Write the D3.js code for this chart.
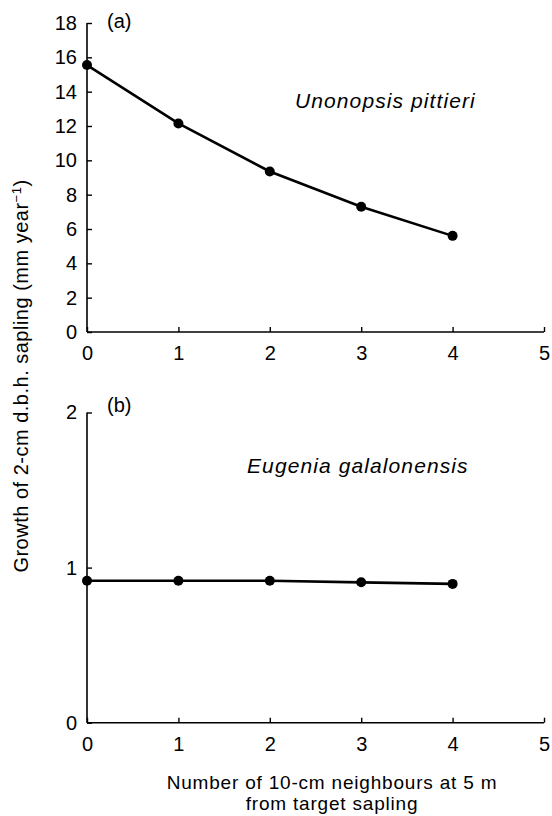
<!DOCTYPE html>
<html>
<head>
<meta charset="utf-8">
<script src="https://cdn.jsdelivr.net/npm/d3@7"></script>
<style>
  body { margin: 0; background: #fff; }
  text { font-family: "Liberation Sans", Arial, Helvetica, sans-serif; fill: #000; }
</style>
</head>
<body>
<div id="chart"></div>
<script>
// Data
//
var neighbours = [0, 1, 2, 3, 4];
var unonopsis_growth = [15.55, 12.15, 9.35, 7.3, 5.6];
var eugenia_growth = [0.915, 0.915, 0.915, 0.905, 0.895];

var x_ticks = [0, 1, 2, 3, 4, 5];
var top_y_ticks = [0, 2, 4, 6, 8, 10, 12, 14, 16, 18];
var bottom_y_ticks = [0, 1, 2];

var width = 552, height = 816;

var svg = d3.select("#chart").append("svg")
  .attr("width", width)
  .attr("height", height);

svg.append("rect").attr("width", width).attr("height", height).attr("fill", "#fff");

function drawPanel(cfg) {
  // draws one panel: axes with inward ticks, line and dots
  var x = d3.scaleLinear().domain([0, 5]).range([87, 544]);
  var y = d3.scaleLinear().domain(cfg.domain).range([cfg.bottom, cfg.top]);

  var g = svg.append("g");

  var x_axis = d3.axisBottom(x)
    .tickValues(x_ticks)
    .tickSize(-5)
    .tickPadding(14)
    .tickFormat(d3.format("d"));
  var y_axis = d3.axisLeft(y)
    .tickValues(cfg.ticks)
    .tickSize(-5)
    .tickPadding(10)
    .tickFormat(d3.format("d"));

  var gx = g.append("g")
    .attr("transform", "translate(0," + cfg.bottom + ")")
    .call(x_axis);
  var gy = g.append("g")
    .attr("transform", "translate(87,0)")
    .call(y_axis);

  [gx, gy].forEach(function(a) {
    a.select(".domain").attr("stroke", "#000").attr("stroke-width", 1.6);
    a.selectAll(".tick line").attr("stroke", "#000").attr("stroke-width", 1.4);
    a.selectAll(".tick text")
      .style("font-size", "20px")
      .style("font-family", "'Liberation Sans', Arial, sans-serif")
      .attr("fill", "#000");
  });
  gx.select(".domain").attr("d", "M87,0H544");
  gy.select(".domain").attr("d", "M0," + cfg.bottom + "V" + cfg.top);

  var line = d3.line()
    .x(function(d, i) { return x(neighbours[i]); })
    .y(function(d) { return y(d); });

  g.append("path")
    .datum(cfg.values)
    .attr("d", line)
    .attr("fill", "none")
    .attr("stroke", "#000")
    .attr("stroke-width", 2.6);

  g.selectAll("circle")
    .data(cfg.values)
    .enter()
    .append("circle")
    .attr("cx", function(d, i) { return x(neighbours[i]); })
    .attr("cy", function(d) { return y(d); })
    .attr("r", 5)
    .attr("fill", "#000");

  g.append("text")
    .attr("x", 107)
    .attr("y", cfg.top + cfg.tag_dy)
    .style("font-size", "20px")
    .text(cfg.tag);

  g.append("text")
    .attr("x", cfg.label_x)
    .attr("y", cfg.label_y)
    .style("font-size", "21px")
    .style("font-style", "italic")
    .style("letter-spacing", "1.1px")
    .text(cfg.species);
}

drawPanel({
  domain: [0, 18], ticks: top_y_ticks, values: unonopsis_growth,
  top: 23, bottom: 332, tag: "(a)", tag_dy: 5,
  species: "Unonopsis pittieri", label_x: 295, label_y: 108
});

drawPanel({
  domain: [0, 2], ticks: bottom_y_ticks, values: eugenia_growth,
  top: 412.5, bottom: 722.7, tag: "(b)", tag_dy: -1,
  species: "Eugenia galalonensis", label_x: 247, label_y: 473
});

// axis titles
var ylab = svg.append("text")
  .attr("transform", "translate(28,376) rotate(-90)")
  .attr("text-anchor", "middle")
  .style("font-size", "20px")
  .style("letter-spacing", "0.5px");
ylab.append("tspan").text("Growth of 2-cm d.b.h. sapling (mm year");
ylab.append("tspan").attr("baseline-shift", "super").style("font-size", "13px").text("\u22121");
ylab.append("tspan").text(")");

var xlab = svg.append("text")
  .attr("text-anchor", "middle")
  .style("font-size", "19px")
  .style("letter-spacing", "0.8px");
xlab.append("tspan").attr("x", 332).attr("y", 789).text("Number of 10-cm neighbours at 5 m");
xlab.append("tspan").attr("x", 332).attr("y", 810).text("from target sapling");
</script>
</body>
</html>
